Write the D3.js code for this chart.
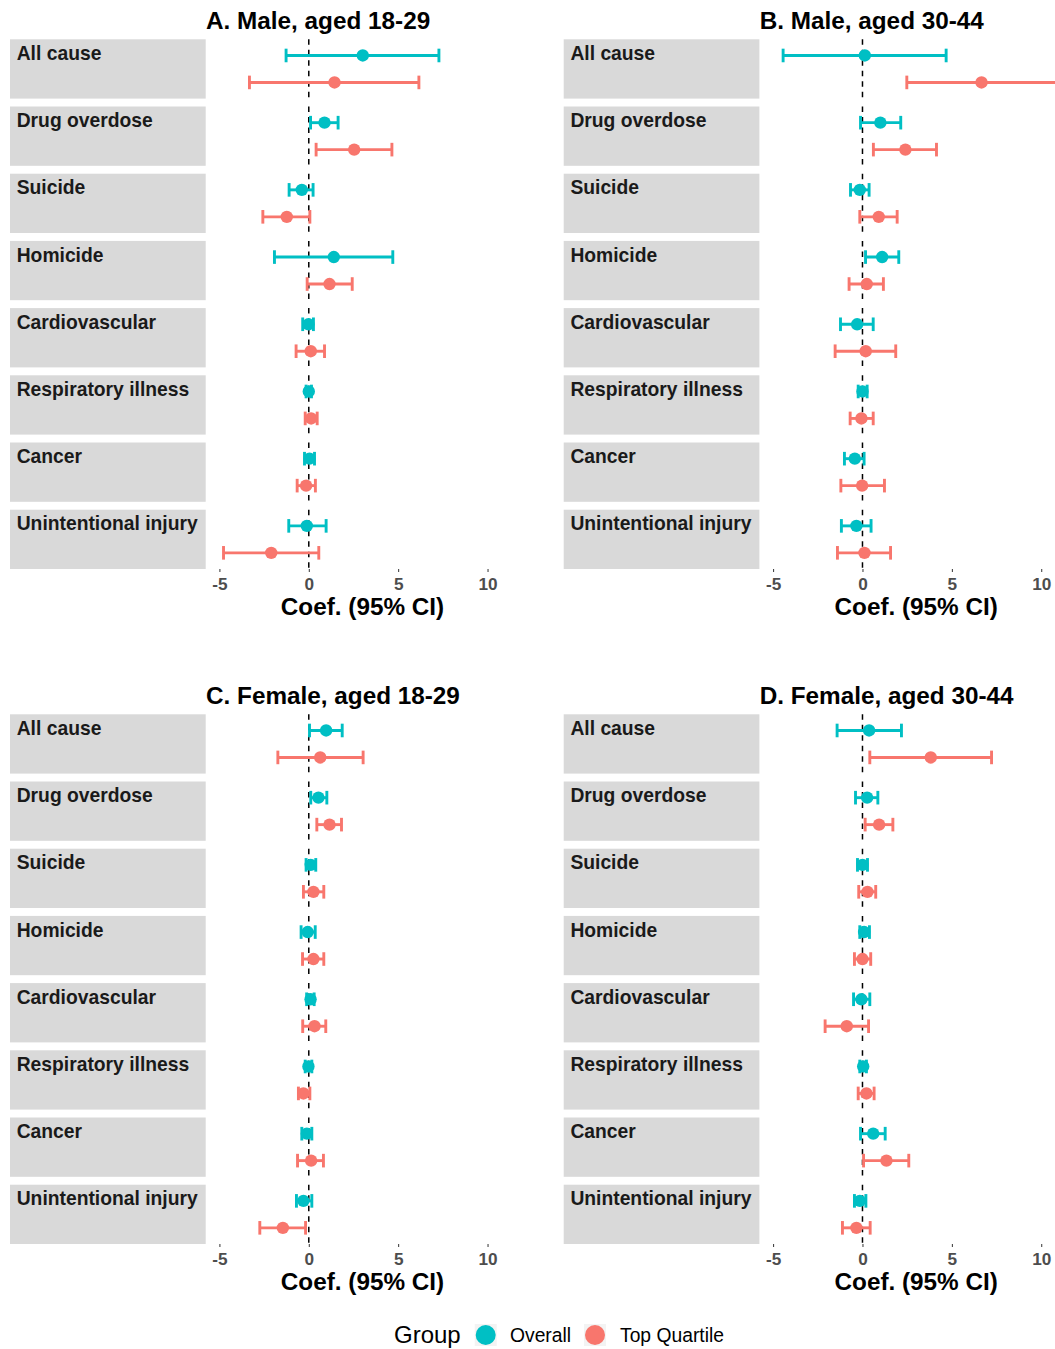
<!DOCTYPE html>
<html>
<head>
<meta charset="utf-8">
<script src="https://cdn.jsdelivr.net/npm/d3@7"></script>
<style>
  html, body { margin: 0; padding: 0; background: #ffffff; }
  svg { display: block; }
  text { font-family: "Liberation Sans", Arial, Helvetica, sans-serif; }
</style>
</head>
<body>
<svg id="chart" width="1055" height="1349"></svg>
<script>
// Causes of death (one facet row each) and comparison groups
const causes = ["All cause", "Drug overdose", "Suicide", "Homicide",
  "Cardiovascular", "Respiratory illness", "Cancer", "Unintentional injury"];
const groups = ["Overall", "Top Quartile"];
const groupColors = ["#00BFC4", "#F8766D"];
const panelTitles = ["A. Male, aged 18-29", "B. Male, aged 30-44",
  "C. Female, aged 18-29", "D. Female, aged 30-44"];
const xTicks = [-5, 0, 5, 10];
const xTitle = "Coef. (95% CI)";
const legendTitle = "Group";

// Coefficient estimates as [estimate, lower 95% CI, upper 95% CI], in cause order
const maleYoungOverall = [[3.02, -1.27, 7.28], [0.88, 0.10, 1.64], [-0.39, -1.10, 0.24], [1.40, -1.92, 4.70],
  [-0.02, -0.34, 0.26], [0.00, -0.15, 0.15], [0.04, -0.24, 0.32], [-0.11, -1.12, 0.97]];
const maleYoungTop = [[1.44, -3.32, 6.16], [2.54, 0.41, 4.65], [-1.23, -2.57, 0.06], [1.16, -0.09, 2.43],
  [0.11, -0.71, 0.88], [0.13, -0.20, 0.47], [-0.15, -0.65, 0.37], [-2.10, -4.77, 0.56]];
const maleOlderOverall = [[0.13, -4.44, 4.68], [1.00, -0.11, 2.14], [-0.15, -0.67, 0.37], [1.10, 0.17, 2.03],
  [-0.30, -1.23, 0.60], [0.00, -0.24, 0.26], [-0.43, -1.01, 0.09], [-0.34, -1.18, 0.48]];
const maleOlderTop = [[6.66, 2.48, 10.90], [2.40, 0.61, 4.14], [0.91, -0.15, 1.94], [0.24, -0.75, 1.17],
  [0.18, -1.53, 1.86], [-0.06, -0.69, 0.60], [-0.02, -1.21, 1.23], [0.11, -1.40, 1.57]];
const femaleYoungOverall = [[0.97, 0.04, 1.87], [0.54, 0.11, 1.01], [0.11, -0.15, 0.39], [-0.06, -0.43, 0.36],
  [0.10, -0.12, 0.30], [-0.02, -0.20, 0.17], [-0.11, -0.39, 0.17], [-0.30, -0.69, 0.17]];
const femaleYoungTop = [[0.64, -1.73, 3.04], [1.16, 0.45, 1.83], [0.26, -0.30, 0.84], [0.26, -0.35, 0.84],
  [0.32, -0.34, 0.95], [-0.30, -0.58, 0.06], [0.13, -0.63, 0.82], [-1.45, -2.74, -0.18]];
const femaleOlderOverall = [[0.37, -1.42, 2.18], [0.26, -0.39, 0.86], [0.00, -0.28, 0.28], [0.09, -0.15, 0.39],
  [-0.06, -0.50, 0.41], [0.04, -0.15, 0.22], [0.60, -0.11, 1.27], [-0.15, -0.45, 0.19]];
const femaleOlderTop = [[3.82, 0.41, 7.22], [0.93, 0.15, 1.70], [0.28, -0.21, 0.74], [0.00, -0.45, 0.46],
  [-0.88, -2.09, 0.34], [0.22, -0.24, 0.65], [1.34, 0.06, 2.59], [-0.34, -1.12, 0.43]];

const panelSeries = [
  [maleYoungOverall, maleYoungTop],
  [maleOlderOverall, maleOlderTop],
  [femaleYoungOverall, femaleYoungTop],
  [femaleOlderOverall, femaleOlderTop]
];

// ---- layout ----
const svg = d3.select("#chart");
const colOffsets = [0, 553.7];
const rowOffsets = [0, 675];
const stripLeft = 10, stripWidth = 195.7;
const panelLeft = 206, panelWidth = 313;
const panelTop = 39.3, panelBottom = 569;
const xDomain = [-5.75, 11.76];

const font = "'Liberation Sans', Arial, Helvetica, sans-serif";

const yBand = d3.scaleBand().domain(causes).range([panelTop, panelBottom])
  .paddingInner(0.1176).paddingOuter(0);
const yGroup = d3.scalePoint().domain(groups).range([0, yBand.bandwidth()]).padding(0.6);
const color = d3.scaleOrdinal().domain(groups).range(groupColors);

panelTitles.forEach((title, p) => {
  const ox = colOffsets[p % 2], oy = rowOffsets[Math.floor(p / 2)];
  const g = svg.append("g").attr("transform", `translate(${ox},${oy})`);
  const x = d3.scaleLinear().domain(xDomain).range([panelLeft, panelLeft + panelWidth]);

  // title, left-aligned with the panel
  g.append("text").attr("x", panelLeft).attr("y", 29.3)
    .attr("font-size", 24.3).attr("font-weight", "bold").attr("fill", "#000")
    .text(title);

  // facet strips (switched to the left side)
  const strips = g.selectAll("g.strip").data(causes).join("g").attr("class", "strip");
  strips.append("rect")
    .attr("x", stripLeft).attr("y", d => yBand(d))
    .attr("width", stripWidth).attr("height", yBand.bandwidth())
    .attr("fill", "#D9D9D9");
  strips.append("text")
    .attr("x", stripLeft + 6.7).attr("y", d => yBand(d) + 20.7)
    .attr("font-size", 19.3).attr("font-weight", "bold").attr("fill", "#1A1A1A")
    .text(d => d);

  // reference line at zero in every facet panel
  g.selectAll("line.zero").data(causes).join("line").attr("class", "zero")
    .attr("x1", x(0)).attr("x2", x(0))
    .attr("y1", d => yBand(d)).attr("y2", d => yBand(d) + yBand.bandwidth())
    .attr("stroke", "#000").attr("stroke-width", 1.5).attr("stroke-dasharray", "5.5,5");

  // estimates with error bars
  const rows = [];
  groups.forEach((grp, gi) => {
    panelSeries[p][gi].forEach((v, ci) => {
      rows.push({ cause: causes[ci], group: grp, est: v[0], lo: v[1], hi: v[2] });
    });
  });
  const cy = d => yBand(d.cause) + yGroup(d.group);
  const capH = 6.8;
  const bars = g.selectAll("g.bar").data(rows).join("g").attr("class", "bar")
    .attr("stroke", d => color(d.group)).attr("stroke-width", 2.9).attr("fill", "none");
  bars.append("line").attr("x1", d => x(d.lo)).attr("x2", d => x(d.hi))
    .attr("y1", cy).attr("y2", cy);
  bars.append("line").attr("x1", d => x(d.lo)).attr("x2", d => x(d.lo))
    .attr("y1", d => cy(d) - capH).attr("y2", d => cy(d) + capH);
  bars.append("line").attr("x1", d => x(d.hi)).attr("x2", d => x(d.hi))
    .attr("y1", d => cy(d) - capH).attr("y2", d => cy(d) + capH);
  g.selectAll("circle.pt").data(rows).join("circle").attr("class", "pt")
    .attr("cx", d => x(d.est)).attr("cy", cy).attr("r", 6.2)
    .attr("fill", d => color(d.group));

  // x axis
  const axis = g.append("g").attr("transform", `translate(0,${panelBottom})`)
    .call(d3.axisBottom(x).tickValues(xTicks).tickSize(3).tickPadding(5.8).tickFormat(d => String(d)));
  axis.select(".domain").remove();
  axis.selectAll(".tick line").attr("stroke", "#333").attr("stroke-width", 1);
  axis.selectAll(".tick text").attr("font-family", font).attr("font-size", 17.2)
    .attr("font-weight", "bold").attr("fill", "#4D4D4D");

  g.append("text").attr("x", panelLeft + panelWidth / 2).attr("y", 615)
    .attr("text-anchor", "middle").attr("font-size", 24.3).attr("font-weight", "bold")
    .attr("fill", "#000").text(xTitle);
});

// legend
const legend = svg.append("g");
legend.append("text").attr("x", 394).attr("y", 1343)
  .attr("font-size", 24).attr("fill", "#000").text(legendTitle);
const keyX = [485.7, 595];
const labelX = [510, 620];
groups.forEach((grp, i) => {
  legend.append("rect").attr("x", keyX[i] - 11).attr("y", 1335 - 11)
    .attr("width", 22).attr("height", 22).attr("fill", "#F3F3F3");
  legend.append("circle").attr("cx", keyX[i]).attr("cy", 1335).attr("r", 10)
    .attr("fill", color(grp));
  legend.append("text").attr("x", labelX[i]).attr("y", 1342)
    .attr("font-size", 19.3).attr("fill", "#000").text(grp);
});
</script>
</body>
</html>
